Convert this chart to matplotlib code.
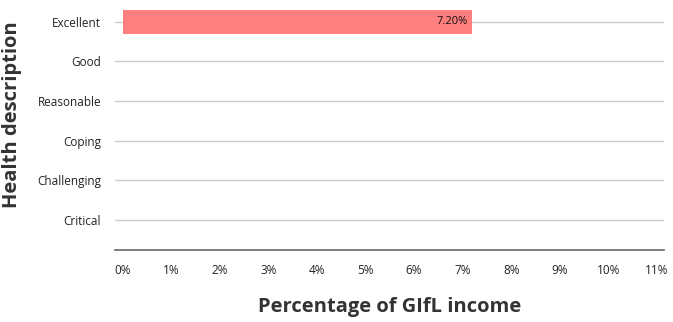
import matplotlib
matplotlib.use("Agg")
import matplotlib.pyplot as plt

categories = ["Excellent", "Good", "Reasonable", "Coping", "Challenging", "Critical"]
values = [7.20, None, None, None, None, None]
xticks = list(range(0, 12))
xtick_labels = [f"{t}%" for t in xticks]

plt.rcParams['font.family'] = ['Open Sans', 'DejaVu Sans']

fig = plt.figure(figsize=(6.73, 3.22), dpi=100)
ax = fig.add_axes([115/673, 1 - 250/322, (664-115)/673, (250-2)/322])

ypos = list(range(len(categories)))
for y in ypos:
    ax.axhline(y, color="#cccccc", lw=1, zorder=0)

for y, v in zip(ypos, values):
    if v is not None:
        ax.barh(y, v, height=0.6, color="#ff7f7f", zorder=2)
        ax.text(v - 0.1, y, f"{v:.2f}%", ha="right", va="center",
                fontsize=8, color="#111111", zorder=3)

ax.set_ylim(len(categories) - 1 + 0.76, -0.5)
ax.set_xlim(-0.165, 11.15)
ax.set_yticks(ypos)
ax.set_yticklabels(categories, fontsize=8.5, color="#222222")
ax.set_xticks(xticks)
ax.set_xticklabels(xtick_labels, fontsize=8.5, color="#222222")
ax.tick_params(axis="y", length=0, pad=10)
ax.tick_params(axis="x", length=0, pad=10)

for s in ["top", "right", "left"]:
    ax.spines[s].set_visible(False)
ax.spines["bottom"].set_color("#666666")
ax.spines["bottom"].set_linewidth(1.2)

ax.set_xlabel("Percentage of GIfL income", fontsize=14.5, fontweight="bold",
              color="#333333")
ax.xaxis.set_label_coords((390 - 115) / 549, (250 - 307) / 248)
ax.xaxis.label.set_va("center")
ax.set_ylabel("Health description", fontsize=14.5, fontweight="bold",
              color="#333333")
ax.yaxis.set_label_coords((12 - 115) / 549, (250 - 115) / 248)
ax.yaxis.label.set_va("center")

fig.savefig("out.png", dpi=100)
